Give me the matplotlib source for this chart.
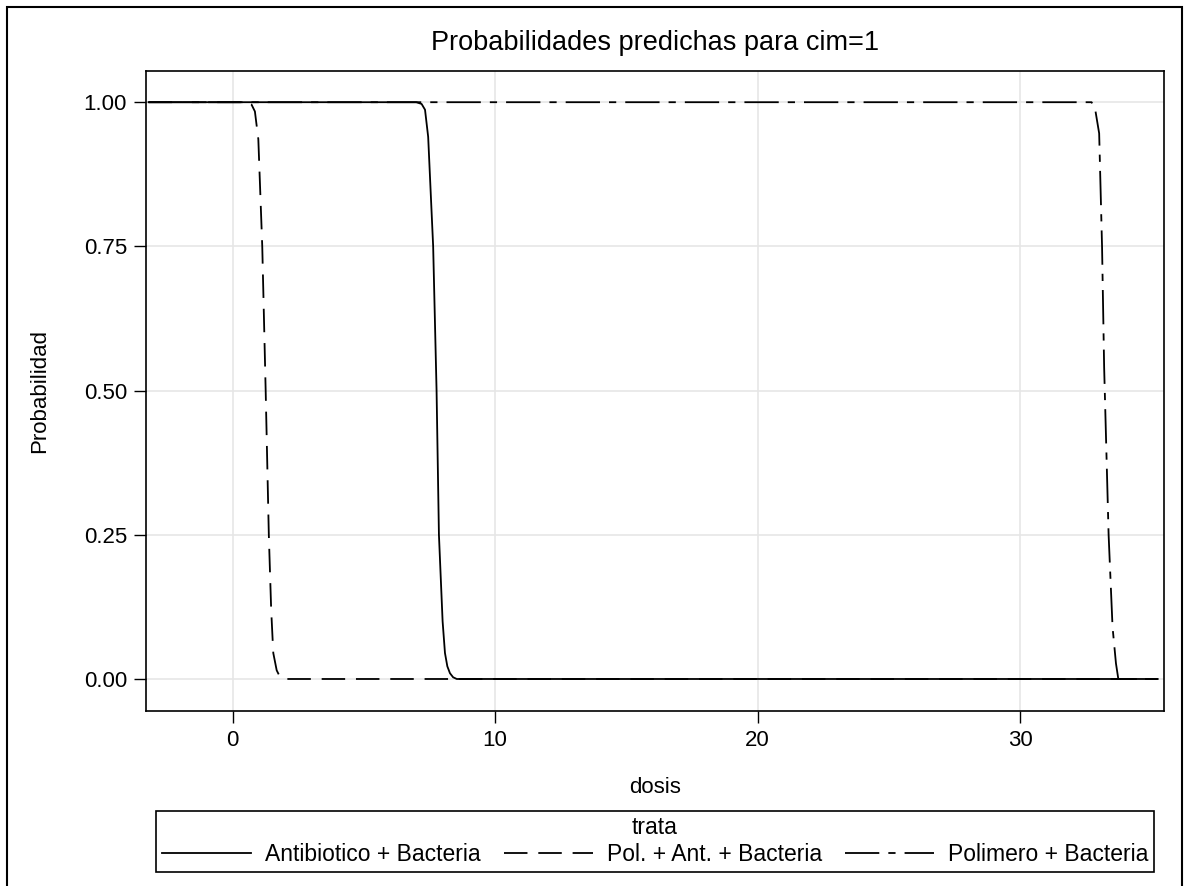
import numpy as np
import matplotlib.pyplot as plt
from matplotlib.lines import Line2D
from matplotlib.patches import Rectangle

plt.rcParams['font.family'] = ['Liberation Sans', 'DejaVu Sans']

# values (dosis, predicted probability)
dosis_anti = [-3.2, 7.0, 7.2, 7.33, 7.45, 7.64, 7.77, 7.86, 8.0, 8.09, 8.18, 8.28, 8.4, 8.54, 35.24]
prob_anti = [1.0, 1.0, 0.997, 0.987, 0.94, 0.75, 0.50, 0.25, 0.10, 0.045, 0.022, 0.01, 0.003, 0.0, 0.0]

dosis_pol_ant = [-3.2, 0.53, 0.72, 0.85, 0.98, 1.13, 1.26, 1.38, 1.47, 1.55, 1.68, 1.8, 1.93, 35.24]
prob_pol_ant = [1.0, 1.0, 0.996, 0.984, 0.936, 0.75, 0.50, 0.25, 0.12, 0.045, 0.015, 0.004, 0.0, 0.0]

dosis_pol = [-3.2, 32.72, 32.85, 33.01, 33.12, 33.20, 33.37, 33.52, 33.65, 33.74, 35.24]
prob_pol = [1.0, 1.0, 0.99, 0.946, 0.75, 0.54, 0.25, 0.09, 0.027, 0.0, 0.0]

labels = ['Antibiotico + Bacteria', 'Pol. + Ant. + Bacteria', 'Polimero + Bacteria']
xticks = [0, 10, 20, 30]
yticks = [0.0, 0.25, 0.5, 0.75, 1.0]

W, H = 1186, 886
fig = plt.figure(figsize=(W / 100, H / 100), dpi=100)
ax = fig.add_axes([145.7 / W, 1 - 711 / H, (1164 - 145.7) / W, (711 - 71.3) / H])

dash = (0, (13, 6))
dashdot = (0, (19, 5, 4, 5))
lw = 1.3
ax.plot(dosis_anti, prob_anti, color='black', lw=lw, ls='-')
ax.plot(dosis_pol_ant, prob_pol_ant, color='black', lw=lw, ls=dash)
ax.plot(dosis_pol, prob_pol, color='black', lw=lw, ls=dashdot)

ax.set_xlim(-3.31, 35.48)
ax.set_ylim(-0.0555, 1.0536)
ax.set_xticks(xticks)
ax.set_yticks(yticks)
ax.set_yticklabels(['%.2f' % v for v in yticks])
ax.grid(True, color='#e6e6e6', lw=1.2)
ax.set_axisbelow(True)
ax.tick_params(direction='out', length=8.5, width=1, labelsize=16, pad=5, colors='black')
for s in ax.spines.values():
    s.set_linewidth(1.2)

ax.set_title('Probabilidades predichas para cim=1', fontsize=19.5, pad=15)
ax.set_xlabel('dosis', fontsize=16, labelpad=19)
ax.set_ylabel('Probabilidad', fontsize=16, labelpad=24)

handles = [Line2D([], [], color='black', lw=lw, ls='-'),
           Line2D([], [], color='black', lw=lw, ls=dash),
           Line2D([], [], color='black', lw=lw, ls=dashdot)]
leg = fig.legend(handles, labels, title='trata', ncol=3, loc='upper center',
                 bbox_to_anchor=(655 / W, 1 - 810.7 / H), bbox_transform=fig.transFigure,
                 fontsize=16.5, title_fontsize=16.5, frameon=True, fancybox=False,
                 edgecolor='black', framealpha=1, handlelength=3.9, handletextpad=0.6,
                 columnspacing=1.0, borderpad=0.25, labelspacing=0.15, borderaxespad=0)
leg.get_frame().set_linewidth(1.2)

# outer border of the graph area
fig.patches.append(Rectangle((6.7 / W, -0.1), (1181.7 - 6.7) / W, 1.1 - 7 / H,
                             transform=fig.transFigure, fill=False, edgecolor='black',
                             lw=1.5, clip_on=False))

plt.savefig('out.png', dpi=100)
